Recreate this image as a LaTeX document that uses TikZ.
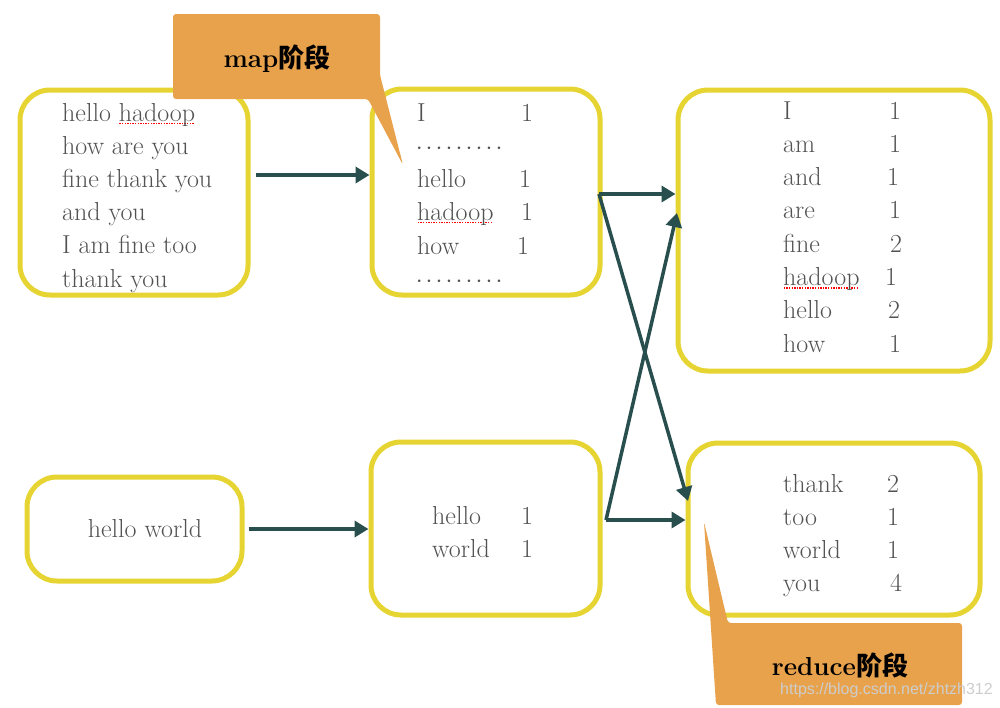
\documentclass[tikz,border=0pt]{standalone}
\usepackage{fontspec}
\newfontfamily\cjk{Noto Sans CJK SC}
\newfontfamily\wmfont{Liberation Sans}
\usetikzlibrary{arrows.meta}
\definecolor{boxyellow}{RGB}{230,212,50}
\definecolor{arrowteal}{RGB}{40,78,78}
\definecolor{callorange}{RGB}{232,162,76}
\definecolor{txtgray}{RGB}{82,82,82}
\definecolor{wmgray}{RGB}{205,205,205}
\newcommand\spellu[1]{\setbox0\hbox{#1}\rlap{\color{red}\raisebox{-3.2pt}{\hbox to \wd0{\leaders\hbox to 2.6pt{\hss\rule{1.4pt}{1.4pt}\hss}\hfill}}}\box0}
\newcommand\dotrow{\hbox to 90pt{\leaders\hbox to 10pt{\hss$\cdotp$\hss}\hfill}}
\begin{document}
\begin{tikzpicture}[x=1pt,y=-1pt,
  ybox/.style={draw=boxyellow, line width=5pt, rounded corners=30pt, inner sep=0pt},
  wtxt/.style={anchor=base west, text=txtgray, font=\fontsize{26}{30}\selectfont, inner sep=0pt},
  ntxt/.style={anchor=base, text=txtgray, font=\fontsize{26}{30}\selectfont, inner sep=0pt},
  arr/.style={draw=arrowteal, line width=3.5pt, -{Triangle[length=14pt,width=16pt]}},
  calltxt/.style={anchor=base, text=black, font=\fontsize{26}{30}\selectfont\bfseries, inner sep=0pt}
]
\useasboundingbox (0,0) rectangle (1000,707);

% boxes
\node[ybox, minimum width=228pt, minimum height=205pt] (A) at (134,192.5) {};
\node[ybox, minimum width=228pt, minimum height=206pt] (B) at (486,192) {};
\node[ybox, minimum width=312pt, minimum height=281pt] (C) at (834,230.5) {};
\node[ybox, minimum width=215pt, minimum height=104pt] (D) at (134.5,529) {};
\node[ybox, minimum width=229pt, minimum height=173pt] (E) at (485.5,528.5) {};
\node[ybox, minimum width=292pt, minimum height=172pt] (F) at (834,529) {};

% box A text
\node[wtxt] (a1) at (62,121) {hello \spellu{hadoop}};
\node[wtxt] (a2) at (62,154.2) {how are you};
\node[wtxt] (a3) at (62,187.4) {fine thank you};
\node[wtxt] (a4) at (62,220.6) {and you};
\node[wtxt] (a5) at (62,253.8) {I am fine too};
\node[wtxt] (a6) at (62,287) {thank you};

% box B text
\node[wtxt] (b1w) at (417,121) {I};
\node[ntxt] (b1n) at (527,121) {1};
\node[wtxt] (b2) at (414,154) {\dotrow};
\node[wtxt] (b3w) at (417,187) {hello};
\node[ntxt] (b3n) at (525,187) {1};
\node[wtxt] (b4w) at (417,220) {\spellu{hadoop}};
\node[ntxt] (b4n) at (527,220) {1};
\node[wtxt] (b5w) at (417,254) {how};
\node[ntxt] (b5n) at (523,254) {1};
\node[wtxt] (b6) at (414,287) {\dotrow};

% box C text
\node[wtxt] (c1w) at (783,119) {I};
\node[ntxt] (c1n) at (895,119) {1};
\node[wtxt] (c2w) at (783,152.3) {am};
\node[ntxt] (c2n) at (895,152.3) {1};
\node[wtxt] (c3w) at (783,185.6) {and};
\node[ntxt] (c3n) at (893,185.6) {1};
\node[wtxt] (c4w) at (783,218.9) {are};
\node[ntxt] (c4n) at (895,218.9) {1};
\node[wtxt] (c5w) at (783,252.2) {fine};
\node[ntxt] (c5n) at (896,252.2) {2};
\node[wtxt] (c6w) at (783,285.5) {\spellu{hadoop}};
\node[ntxt] (c6n) at (891,285.5) {1};
\node[wtxt] (c7w) at (783,318.8) {hello};
\node[ntxt] (c7n) at (894,318.8) {2};
\node[wtxt] (c8w) at (783,352) {how};
\node[ntxt] (c8n) at (895,352) {1};

% box D text
\node[ntxt] (d1) at (145,537) {hello world};

% box E text
\node[wtxt] (e1w) at (432,524) {hello};
\node[ntxt] (e1n) at (527,524) {1};
\node[wtxt] (e2w) at (432,557) {world};
\node[ntxt] (e2n) at (527,557) {1};

% box F text
\node[wtxt] (f1w) at (783,492) {thank};
\node[ntxt] (f1n) at (893,492) {2};
\node[wtxt] (f2w) at (783,525) {too};
\node[ntxt] (f2n) at (893,525) {1};
\node[wtxt] (f3w) at (783,558) {world};
\node[ntxt] (f3n) at (893,558) {1};
\node[wtxt] (f4w) at (783,591) {you};
\node[ntxt] (f4n) at (896,591) {4};

% connectors
\coordinate (rowAB) at (0,175);
\coordinate (Bout) at (599,194);
\coordinate (Eout) at (606,520);
\coordinate (Fin) at (688,501);
\coordinate (Cin) at (677,213);
\draw[arr, shorten <=5pt] (A.east |- rowAB) -- (B.west |- rowAB);
\draw[arr, shorten <=4pt] (D.east) -- (E.west |- D.east);
\draw[arr] (Bout) -- (C.west |- Bout);
\draw[arr] (Bout) -- (Fin);
\draw[arr] (Eout) -- (F.west |- Eout);
\draw[arr] (Eout) -- (Cin);

% callouts
\fill[callorange, rounded corners=3pt] (173,14) -- (380,14) -- (380,75) -- (403,165) -- (368,99) -- (173,99) -- cycle;
\node[calltxt] (maplbl) at (277,67) {map{\cjk 阶段}};
\fill[callorange, rounded corners=3pt] (704,522) -- (728,623) -- (962,623) -- (962,705) -- (716,705) -- cycle;
\node[calltxt] (redlbl) at (840,675) {reduce{\cjk 阶段}};

% watermark
\node[anchor=base west, text=wmgray, font=\wmfont\fontsize{16}{18}\selectfont, inner sep=0pt] (wm) at (780,694) {https://blog.csdn.net/zhtzh312};
\end{tikzpicture}
\end{document}
